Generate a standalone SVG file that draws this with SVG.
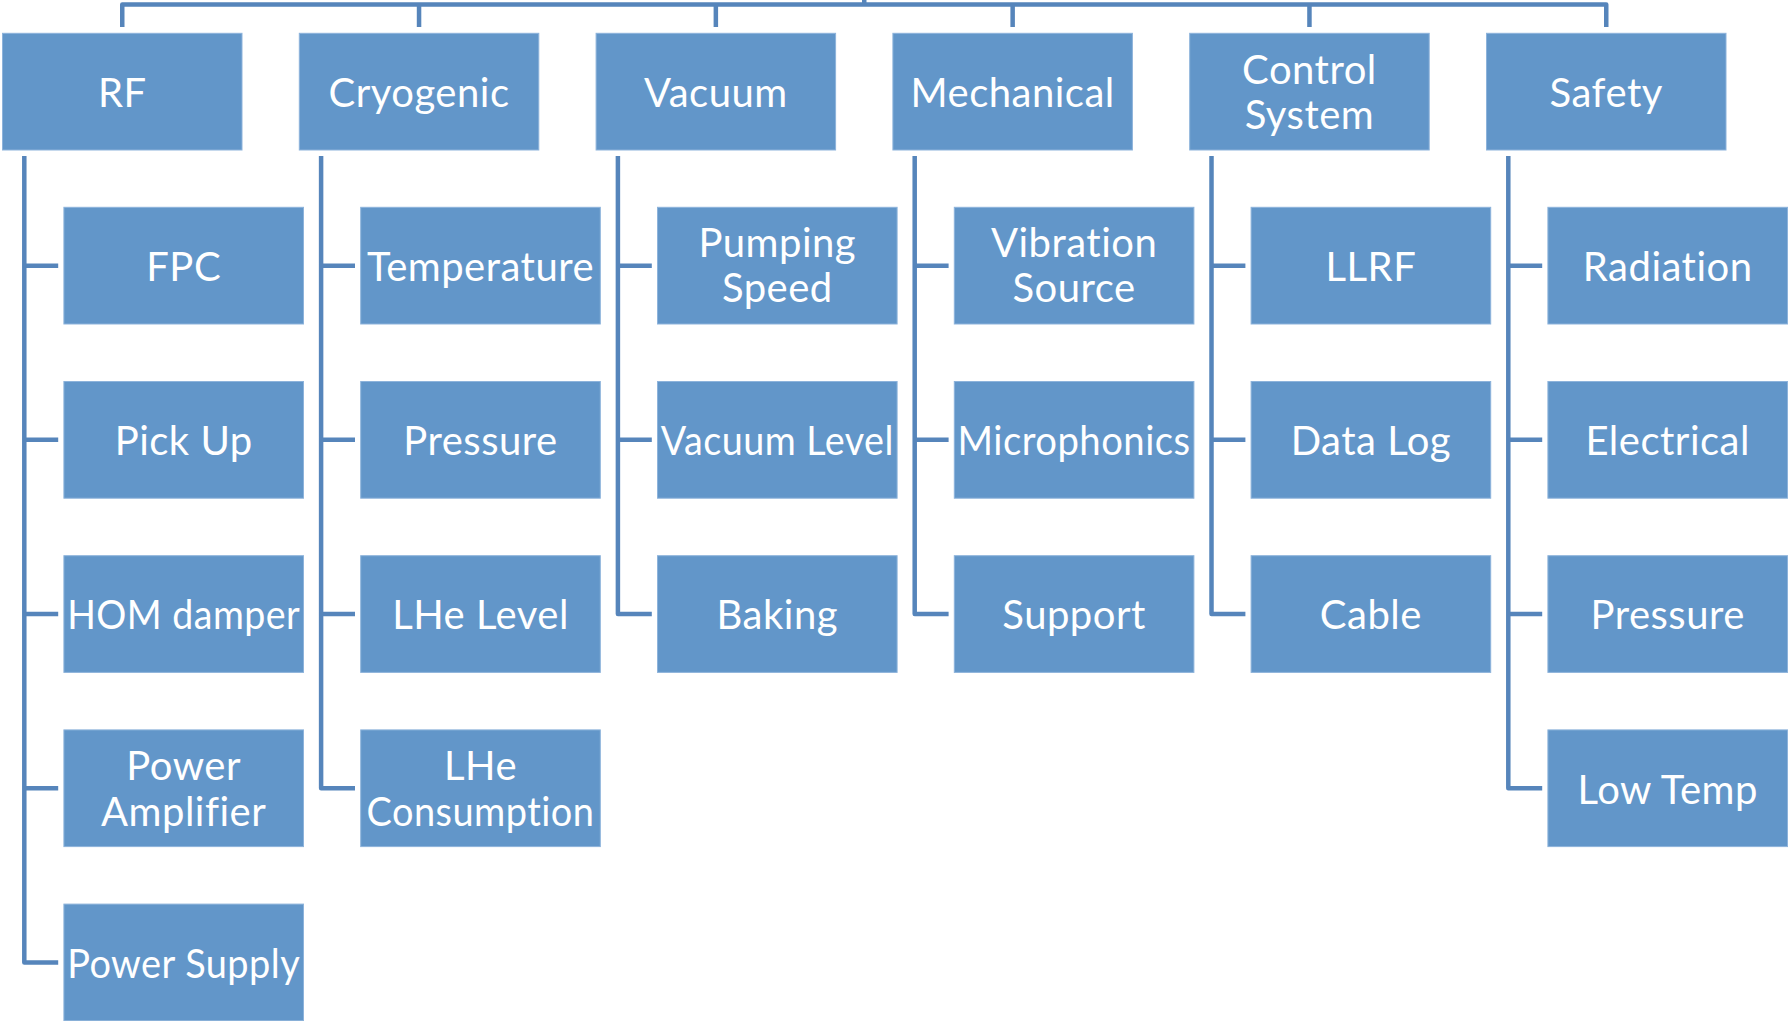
<svg xmlns="http://www.w3.org/2000/svg" width="1790" height="1021" viewBox="0 0 1790 1021">
<style>
.n{fill:#6296C9;stroke:#8DB3DB;stroke-width:1}
.t{font-family:Lato,"Liberation Sans",sans-serif;font-size:40px;letter-spacing:0.5px;fill:#fff;text-anchor:middle}
.c{fill:none;stroke:#5685BB;stroke-width:4.5;stroke-linejoin:round}
</style>
<rect width="1790" height="1021" fill="#fff"/>
<g id="connectors" class="c">
<path d="M122.25,27 V4.5 H1606.25 V27"/>
<path d="M864.25,4.5 V0"/>
<path d="M419.05,4.5 V27 M715.85,4.5 V27 M1012.65,4.5 V27 M1309.45,4.5 V27"/>
<path d="M24.3,156 V962.45 H58.2 M24.3,265.65 H58.2 M24.3,439.85 H58.2 M24.3,614.05 H58.2 M24.3,788.25 H58.2"/>
<path d="M321.1,156 V788.25 H355 M321.1,265.65 H355 M321.1,439.85 H355 M321.1,614.05 H355"/>
<path d="M617.9,156 V614.05 H651.8 M617.9,265.65 H651.8 M617.9,439.85 H651.8"/>
<path d="M914.7,156 V614.05 H948.6 M914.7,265.65 H948.6 M914.7,439.85 H948.6"/>
<path d="M1211.5,156 V614.05 H1245.4 M1211.5,265.65 H1245.4 M1211.5,439.85 H1245.4"/>
<path d="M1508.3,156 V788.25 H1542.2 M1508.3,265.65 H1542.2 M1508.3,439.85 H1542.2 M1508.3,614.05 H1542.2"/>
</g>
<g id="rf"><rect class="n" x="2.5" y="33.3" width="239.5" height="116.7"/><text class="t" x="122.25" y="106.7">RF</text></g>
<g id="cryogenic"><rect class="n" x="299.3" y="33.3" width="239.5" height="116.7"/><text class="t" x="419.05" y="106.7">Cryogenic</text></g>
<g id="vacuum"><rect class="n" x="596.1" y="33.3" width="239.5" height="116.7"/><text class="t" x="715.85" y="106.7">Vacuum</text></g>
<g id="mechanical"><rect class="n" x="892.9" y="33.3" width="239.5" height="116.7"/><text class="t" x="1012.65" y="106.7">Mechanical</text></g>
<g id="control-system"><rect class="n" x="1189.7" y="33.3" width="239.5" height="116.7"/><text class="t" x="1309.45" y="83.5">Control</text><text class="t" x="1309.45" y="128.5">System</text></g>
<g id="safety"><rect class="n" x="1486.5" y="33.3" width="239.5" height="116.7"/><text class="t" x="1606.25" y="106.7">Safety</text></g>

<g id="fpc"><rect class="n" x="63.9" y="207.3" width="239.6" height="116.7"/><text class="t" x="183.7" y="280.9">FPC</text></g>
<g id="pick-up"><rect class="n" x="63.9" y="381.5" width="239.6" height="116.7"/><text class="t" x="183.7" y="455.1">Pick Up</text></g>
<g id="hom-damper"><rect class="n" x="63.9" y="555.7" width="239.6" height="116.7"/><text class="t" x="183.7" y="629.3" textLength="233" lengthAdjust="spacingAndGlyphs">HOM damper</text></g>
<g id="power-amplifier"><rect class="n" x="63.9" y="729.9" width="239.6" height="116.7"/><text class="t" x="183.7" y="780">Power</text><text class="t" x="183.7" y="825.5">Amplifier</text></g>
<g id="power-supply"><rect class="n" x="63.9" y="904.1" width="239.6" height="116.7"/><text class="t" x="183.7" y="977.7" textLength="233" lengthAdjust="spacingAndGlyphs">Power Supply</text></g>

<g id="temperature"><rect class="n" x="360.7" y="207.3" width="239.6" height="116.7"/><text class="t" x="480.5" y="280.9">Temperature</text></g>
<g id="pressure-cryo"><rect class="n" x="360.7" y="381.5" width="239.6" height="116.7"/><text class="t" x="480.5" y="455.1">Pressure</text></g>
<g id="lhe-level"><rect class="n" x="360.7" y="555.7" width="239.6" height="116.7"/><text class="t" x="480.5" y="629.3">LHe Level</text></g>
<g id="lhe-consumption"><rect class="n" x="360.7" y="729.9" width="239.6" height="116.7"/><text class="t" x="480.5" y="780">LHe</text><text class="t" x="480.5" y="825.5" textLength="228" lengthAdjust="spacingAndGlyphs">Consumption</text></g>

<g id="pumping-speed"><rect class="n" x="657.5" y="207.3" width="239.6" height="116.7"/><text class="t" x="777.3" y="257.3">Pumping</text><text class="t" x="777.3" y="302">Speed</text></g>
<g id="vacuum-level"><rect class="n" x="657.5" y="381.5" width="239.6" height="116.7"/><text class="t" x="777.3" y="455.1" textLength="233" lengthAdjust="spacingAndGlyphs">Vacuum Level</text></g>
<g id="baking"><rect class="n" x="657.5" y="555.7" width="239.6" height="116.7"/><text class="t" x="777.3" y="629.3">Baking</text></g>

<g id="vibration-source"><rect class="n" x="954.3" y="207.3" width="239.6" height="116.7"/><text class="t" x="1074.1" y="257.3">Vibration</text><text class="t" x="1074.1" y="302">Source</text></g>
<g id="microphonics"><rect class="n" x="954.3" y="381.5" width="239.6" height="116.7"/><text class="t" x="1074.1" y="455.1" textLength="233" lengthAdjust="spacingAndGlyphs">Microphonics</text></g>
<g id="support"><rect class="n" x="954.3" y="555.7" width="239.6" height="116.7"/><text class="t" x="1074.1" y="629.3">Support</text></g>

<g id="llrf"><rect class="n" x="1251.1" y="207.3" width="239.6" height="116.7"/><text class="t" x="1370.9" y="280.9">LLRF</text></g>
<g id="data-log"><rect class="n" x="1251.1" y="381.5" width="239.6" height="116.7"/><text class="t" x="1370.9" y="455.1">Data Log</text></g>
<g id="cable"><rect class="n" x="1251.1" y="555.7" width="239.6" height="116.7"/><text class="t" x="1370.9" y="629.3">Cable</text></g>

<g id="radiation"><rect class="n" x="1547.9" y="207.3" width="239.6" height="116.7"/><text class="t" x="1667.7" y="280.9">Radiation</text></g>
<g id="electrical"><rect class="n" x="1547.9" y="381.5" width="239.6" height="116.7"/><text class="t" x="1667.7" y="455.1">Electrical</text></g>
<g id="pressure-safety"><rect class="n" x="1547.9" y="555.7" width="239.6" height="116.7"/><text class="t" x="1667.7" y="629.3">Pressure</text></g>
<g id="low-temp"><rect class="n" x="1547.9" y="729.9" width="239.6" height="116.7"/><text class="t" x="1667.7" y="803.5">Low Temp</text></g>
</svg>
